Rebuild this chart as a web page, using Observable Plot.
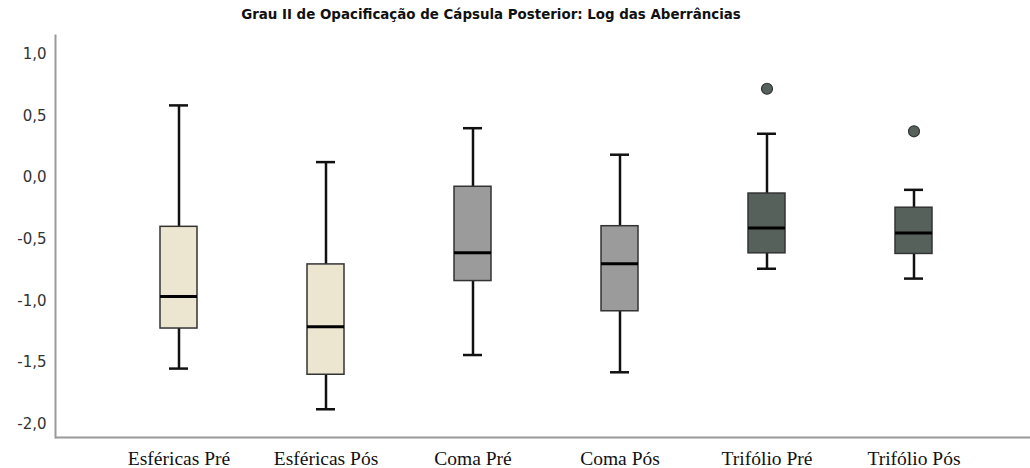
<!DOCTYPE html>
<html><head><meta charset="utf-8">
<script src="https://cdn.jsdelivr.net/npm/d3@7"></script>
<script src="https://cdn.jsdelivr.net/npm/@observablehq/plot@0.6"></script>
<style>
body{margin:0;background:#fff;}
#wrap{position:relative;width:1030px;height:468px;}
#title{position:absolute;left:0;top:0;width:982px;height:28px;line-height:30px;text-align:center;font-family:"DejaVu Sans",sans-serif;font-weight:bold;font-size:13.4px;color:#111;}
#chart{position:absolute;left:0;top:28px;}
</style></head>
<body><div id="wrap"><div id="title">Grau II de Opacificação de Cápsula Posterior: Log das Aberrâncias</div><div id="chart"></div></div>
<script>
const categories = ["Esféricas Pré","Esféricas Pós","Coma Pré","Coma Pós","Trifólio Pré","Trifólio Pós"];
const groups = ["Esféricas","Esféricas","Coma","Coma","Trifólio","Trifólio"];
const low    = [-1.55, -1.88, -1.44, -1.58, -0.74, -0.82];
const q1     = [-1.225, -1.60, -0.84, -1.085, -0.615, -0.62];
const median = [-0.965, -1.21, -0.61, -0.70, -0.41, -0.45];
const q3     = [-0.40, -0.705, -0.075, -0.395, -0.13, -0.245];
const high   = [0.585, 0.125, 0.40, 0.185, 0.355, -0.10];
const outlierCats = ["Trifólio Pré","Trifólio Pós"];
const outlierVals = [0.72, 0.375];
const yTicks = [-2, -1.5, -1, -0.5, 0, 0.5, 1];
const groupColors = {"Esféricas":"#ece5d0","Coma":"#9b9b9b","Trifólio":"#57615b"};

const boxes = categories.map((c,i)=>({cat:c, group:groups[i], low:low[i], q1:q1[i], median:median[i], q3:q3[i], high:high[i]}));
const outliers = outlierCats.map((c,i)=>({cat:c, v:outlierVals[i], group:groups[categories.indexOf(c)]}));
const fmt = d => d3.format(".1f")(d).replace(".", ",").replace("−","-");

const plot = Plot.plot({
  width: 1030, height: 440,
  marginLeft: 55, marginRight: 0, marginTop: 7, marginBottom: 31,
  x: {domain: categories, range: [159.2, 933.2], paddingInner: 0.749, paddingOuter: 0, label: null},
  y: {domain: [-2.109, 1.152], label: null},
  style: {background: "#fff"},
  marks: [
    Plot.ruleX(boxes, {x: "cat", y1: "low", y2: "high", stroke: "#111", strokeWidth: 2.5}),
    Plot.barY(boxes, {x: "cat", y1: "q1", y2: "q3", fill: d => groupColors[d.group], stroke: "#333", strokeWidth: 1.5}),
    Plot.tickY(boxes, {x: "cat", y: "median", stroke: "#000", strokeWidth: 3}),
    Plot.tickY(boxes, {x: "cat", y: "high", stroke: "#111", strokeWidth: 2.5, insetLeft: 9, insetRight: 9}),
    Plot.tickY(boxes, {x: "cat", y: "low", stroke: "#111", strokeWidth: 2.5, insetLeft: 9, insetRight: 9}),
    Plot.dot(outliers, {x: "cat", y: "v", r: 5.5, fill: d => groupColors[d.group], stroke: "#333", strokeWidth: 1.2}),
    Plot.axisY({ticks: yTicks, tickFormat: fmt, tickSize: 0, tickPadding: 9, fontSize: 15, fontFamily: "DejaVu Sans", fill: "#333"}),
    Plot.axisX({tickSize: 0, tickPadding: 14, fontSize: 19.5, fontFamily: "Liberation Serif", fill: "#111"}),
    Plot.ruleY([-2.109], {stroke: "#999", strokeWidth: 2}),
    Plot.frame({anchor: "left", stroke: "#999", strokeWidth: 2})
  ]
});
document.getElementById("chart").appendChild(plot);
</script></body></html>
